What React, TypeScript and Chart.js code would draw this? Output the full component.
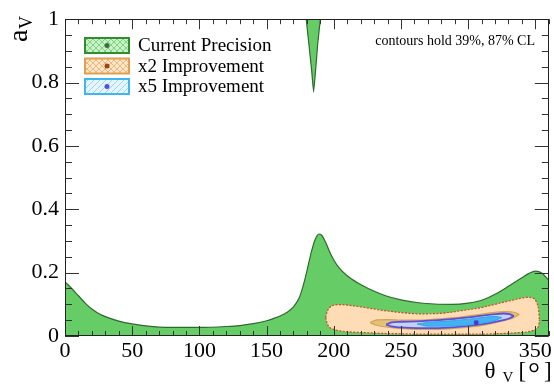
import { useEffect, useRef } from 'react';
import { Chart, registerables } from 'chart.js';
Chart.register(...registerables);

// ---- data ----
const greenX = [0, 5, 10, 15, 20, 25, 30, 40, 50, 60, 70, 80, 100, 120, 130, 140, 150, 155, 160, 165, 170, 174, 177, 180, 183, 186, 189, 191, 194, 197, 200, 204, 210, 218, 226, 238, 250, 263, 275, 288, 300, 310, 320, 330, 340, 345, 350, 355, 360];
const greenY = [0.171, 0.15, 0.127, 0.104, 0.085, 0.071, 0.061, 0.047, 0.038, 0.032, 0.028, 0.027, 0.027, 0.03, 0.033, 0.039, 0.048, 0.055, 0.063, 0.074, 0.092, 0.118, 0.155, 0.205, 0.26, 0.303, 0.322, 0.318, 0.295, 0.265, 0.24, 0.215, 0.19, 0.167, 0.149, 0.128, 0.114, 0.105, 0.101, 0.1, 0.104, 0.113, 0.132, 0.157, 0.184, 0.197, 0.205, 0.198, 0.175];

const spikeX = [179.5, 181.5, 183.5, 185, 186.5, 188, 190];
const spikeY = [1, 0.92, 0.84, 0.77, 0.84, 0.92, 1];

const orangeX = [194, 195, 197, 200, 205, 215, 226, 238, 250, 263, 278, 295, 310, 320, 335, 344, 348, 351, 352.5, 353];
const orangeUpper = [0.058, 0.076, 0.09, 0.097, 0.099, 0.095, 0.088, 0.08, 0.074, 0.07, 0.071, 0.08, 0.09, 0.1, 0.115, 0.122, 0.12, 0.105, 0.08, 0.05];
const orangeLower = [0.058, 0.04, 0.027, 0.021, 0.016, 0.012, 0.01, 0.008, 0.007, 0.006, 0.006, 0.006, 0.006, 0.007, 0.01, 0.013, 0.017, 0.024, 0.034, 0.05];

const goldX = [227, 232, 240, 250, 262, 275, 290, 305, 318, 328, 334, 338];
const goldUpper = [0.042, 0.051, 0.052, 0.05, 0.05, 0.053, 0.058, 0.066, 0.074, 0.077, 0.075, 0.068];
const goldLower = [0.042, 0.034, 0.028, 0.024, 0.021, 0.021, 0.024, 0.03, 0.04, 0.05, 0.058, 0.068];

const blueX = [239, 243, 250, 262, 275, 290, 305, 318, 326, 331, 334];
const blueUpper = [0.036, 0.043, 0.045, 0.046, 0.049, 0.054, 0.061, 0.068, 0.071, 0.069, 0.063];
const blueLower = [0.036, 0.03, 0.027, 0.025, 0.025, 0.028, 0.034, 0.043, 0.05, 0.056, 0.063];

const cyanX = [262, 270, 285, 300, 312, 320, 325];
const cyanUpper = [0.038, 0.043, 0.047, 0.053, 0.059, 0.062, 0.058];
const cyanLower = [0.038, 0.031, 0.031, 0.035, 0.042, 0.049, 0.058];

const bestFitX = [306];
const bestFitY = [0.042];

const legendLabels = ['Current Precision', 'x2 Improvement', 'x5 Improvement'];
const noteText = 'contours hold 39%, 87% CL';

const xMin = 0, xMax = 360, xMajor = 50, xMinor = 10;
const yMin = 0, yMax = 1, yMajor = 0.2, yMinor = 0.05;

const SERIF = '"Liberation Serif", "Times New Roman", serif';

const pts = (xs: number[], ys: number[]) => xs.map((x, i) => ({ x, y: ys[i] }));

function makePattern(bg: string, fg: string, kind: 'cross' | 'diag') {
  const c = document.createElement('canvas');
  c.width = 6; c.height = 6;
  const g = c.getContext('2d')!;
  g.fillStyle = bg; g.fillRect(0, 0, 6, 6);
  g.strokeStyle = fg; g.lineWidth = 1;
  g.beginPath();
  g.moveTo(0, 6); g.lineTo(6, 0);
  if (kind === 'cross') { g.moveTo(0, 0); g.lineTo(6, 6); }
  g.stroke();
  return g.createPattern(c, 'repeat')!;
}

const decor = {
  id: 'decor',
  afterDatasetsDraw(chart: any) {
    const { ctx, chartArea: a, scales } = chart;
    const xs = scales.x, ys = scales.y;
    ctx.save();
    ctx.strokeStyle = '#333';
    ctx.lineWidth = 1;
    ctx.beginPath();
    for (let v = xMin; v <= xMax + 1e-9; v += xMinor) {
      const px = Math.round(xs.getPixelForValue(v)) + 0.5;
      const len = Math.abs(v % xMajor) < 1e-9 ? 10 : 5;
      ctx.moveTo(px, a.bottom); ctx.lineTo(px, a.bottom - len);
      ctx.moveTo(px, a.top); ctx.lineTo(px, a.top + len);
    }
    const nY = Math.round((yMax - yMin) / yMinor);
    const per = Math.round(yMajor / yMinor);
    for (let i = 0; i <= nY; i++) {
      const v = yMin + i * yMinor;
      const py = Math.round(ys.getPixelForValue(v)) + 0.5;
      const len = i % per === 0 ? 14 : 7;
      ctx.moveTo(a.left, py); ctx.lineTo(a.left + len, py);
      ctx.moveTo(a.right, py); ctx.lineTo(a.right - len, py);
    }
    ctx.stroke();
    ctx.strokeStyle = '#222';
    ctx.strokeRect(Math.round(a.left) + 0.5, Math.round(a.top) + 0.5, Math.round(a.right - a.left) - 1, Math.round(a.bottom - a.top) - 1);

    // legend
    const boxL = 85, boxW = 44, boxH = 15;
    const rowsTop = [38, 58.5, 79];
    const fills = [
      makePattern('#c9f0c9', '#7fd47f', 'cross'),
      makePattern('#fde6cc', '#f0b878', 'cross'),
      makePattern('#e6f4fc', '#9ad6f4', 'diag'),
    ];
    const borders = ['#2f8f2f', '#e0a050', '#3fb6ee'];
    const dots = ['#3d6e3d', '#a3400f', '#5050e0'];
    for (let i = 0; i < legendLabels.length; i++) {
      const t = rowsTop[i];
      ctx.fillStyle = fills[i];
      ctx.fillRect(boxL, t, boxW, boxH);
      ctx.lineWidth = 2;
      ctx.strokeStyle = borders[i];
      ctx.strokeRect(boxL, t, boxW, boxH);
      ctx.fillStyle = dots[i];
      ctx.beginPath();
      ctx.arc(boxL + boxW / 2, t + boxH / 2, 2.5, 0, Math.PI * 2);
      ctx.fill();
      ctx.fillStyle = '#000';
      ctx.font = `19px ${SERIF}`;
      ctx.textAlign = 'left';
      ctx.textBaseline = 'alphabetic';
      ctx.fillText(legendLabels[i], 138, t + 13);
    }

    // note
    ctx.font = `14px ${SERIF}`;
    ctx.textAlign = 'right';
    ctx.fillText(noteText, 535, 45);

    // y title (rotated)
    ctx.save();
    ctx.translate(26.5, 42);
    ctx.rotate(-Math.PI / 2);
    ctx.textAlign = 'left';
    ctx.font = `28px ${SERIF}`;
    ctx.fillText('a', 0, 0);
    const aw = ctx.measureText('a').width;
    ctx.font = `18px ${SERIF}`;
    ctx.fillText('V', aw + 0.5, 5.5);
    ctx.restore();

    // x title
    ctx.textAlign = 'left';
    ctx.font = `23px ${SERIF}`;
    ctx.fillText('θ', 484.5, 377.5);
    ctx.font = `15px ${SERIF}`;
    ctx.fillText('V', 502.5, 381.5);
    ctx.font = `23px ${SERIF}`;
    ctx.fillText('[', 518.5, 377.5);
    ctx.font = `30px ${SERIF}`;
    ctx.fillText('°', 528, 383);
    ctx.font = `23px ${SERIF}`;
    ctx.fillText(']', 544, 377.5);
    ctx.restore();
  },
};

export default function App() {
  const ref = useRef<HTMLCanvasElement>(null);
  useEffect(() => {
    const canvas = ref.current!;
    const line = (o: any) => ({ showLine: true, pointRadius: 0, cubicInterpolationMode: 'monotone', ...o });
    const chart = new Chart(canvas, {
      type: 'scatter',
      data: {
        datasets: [
          // 0 green
          line({ data: pts(greenX, greenY), fill: 'origin', backgroundColor: '#66cc66', borderColor: '#2f6a2f', borderWidth: 1.2, order: 20 }),
          // 1 spike
          line({ data: pts(spikeX, spikeY), fill: 'end', cubicInterpolationMode: 'default', tension: 0.1, backgroundColor: '#66cc66', borderColor: '#2f6a2f', borderWidth: 1.2, order: 19 }),
          // 2 orange upper (fills to 3)
          line({ data: pts(orangeX, orangeUpper), fill: 3, backgroundColor: '#fddcb6', borderColor: '#cc4a1e', borderDash: [2, 1.5], borderWidth: 1.2, order: 18 }),
          // 3 orange lower
          line({ data: pts(orangeX, orangeLower), fill: false, borderColor: '#cc4a1e', borderDash: [2, 1.5], borderWidth: 1.2, order: 17 }),
          // 4 gold upper
          line({ data: pts(goldX, goldUpper), fill: 5, backgroundColor: '#e3c07c', borderColor: '#d9a24e', borderWidth: 1.2, order: 16 }),
          // 5 gold lower
          line({ data: pts(goldX, goldLower), fill: false, borderColor: '#d9a24e', borderWidth: 1.2, order: 15 }),
          // 6 blue upper
          line({ data: pts(blueX, blueUpper), fill: 7, backgroundColor: '#c3d3fa', borderColor: '#5a4fe0', borderWidth: 1.8, order: 14 }),
          // 7 blue lower
          line({ data: pts(blueX, blueLower), fill: false, borderColor: '#5a4fe0', borderWidth: 1.8, order: 13 }),
          // 8 cyan upper
          line({ data: pts(cyanX, cyanUpper), fill: 9, backgroundColor: '#42b2f0', borderColor: '#3aa6e6', borderWidth: 1, order: 12 }),
          // 9 cyan lower
          line({ data: pts(cyanX, cyanLower), fill: false, borderColor: '#3aa6e6', borderWidth: 1, order: 11 }),
          // 10 best fit point
          { data: pts(bestFitX, bestFitY), showLine: false, pointRadius: 2.5, pointStyle: 'rect', backgroundColor: '#4b3cc8', borderColor: '#4b3cc8', order: 0 },
        ] as any,
      },
      options: {
        responsive: false,
        animation: false,
        devicePixelRatio: 1,
        layout: { padding: { top: 14, right: 4, left: 0, bottom: 0 } },
        plugins: { legend: { display: false }, tooltip: { enabled: false } },
        scales: {
          x: {
            type: 'linear', min: xMin, max: xMax,
            grid: { display: false, drawTicks: false },
            border: { display: false },
            ticks: { stepSize: xMajor, includeBounds: false, padding: 2, color: '#000', font: { family: SERIF, size: 22 }, maxRotation: 0 },
            afterFit: (s: any) => { s.height = 55; },
          },
          y: {
            type: 'linear', min: yMin, max: yMax,
            grid: { display: false, drawTicks: false },
            border: { display: false },
            ticks: {
              stepSize: yMajor, padding: 6, color: '#000', font: { family: SERIF, size: 22 },
              callback: (v: any) => String(parseFloat(Number(v).toFixed(2))),
            },
            afterFit: (s: any) => { s.width = 65; },
          },
        },
      } as any,
      plugins: [decor],
    });
    return () => chart.destroy();
  }, []);
  return (
    <div style={{ position: 'fixed', left: 0, top: 0, width: 554, height: 391, background: '#fff' }}>
      <canvas ref={ref} width={554} height={391} style={{ display: 'block' }} />
    </div>
  );
}
